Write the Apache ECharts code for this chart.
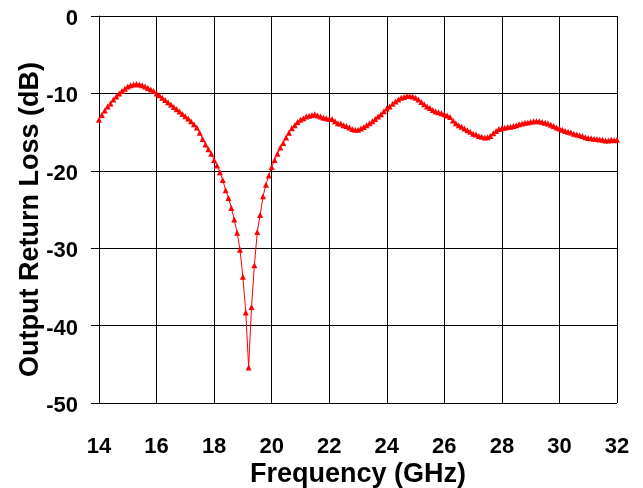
<!DOCTYPE html>
<html>
<head>
<meta charset="utf-8">
<script src="https://cdn.jsdelivr.net/npm/echarts@6/dist/echarts.min.js"></script>
<style>
html,body{margin:0;padding:0;background:#fff;}
#chart{width:643px;height:488px;}
</style>
</head>
<body>
<div id="chart"></div>
<script>
const xTicks = [14, 16, 18, 20, 22, 24, 26, 28, 30, 32];
const yTicks = [-50, -40, -30, -20, -10, 0];
const frequencyGHz = [
14.0,14.1,14.2,14.3,14.4,14.5,14.6,14.7,14.8,14.9,
15.0,15.1,15.2,15.3,15.4,15.5,15.6,15.7,15.8,15.9,
16.0,16.1,16.2,16.3,16.4,16.5,16.6,16.7,16.8,16.9,
17.0,17.1,17.2,17.3,17.4,17.5,17.6,17.7,17.8,17.9,
18.0,18.1,18.2,18.3,18.4,18.5,18.6,18.7,18.8,18.9,
19.0,19.1,19.2,19.3,19.4,19.5,19.6,19.7,19.8,19.9,
20.0,20.1,20.2,20.3,20.4,20.5,20.6,20.7,20.8,20.9,
21.0,21.1,21.2,21.3,21.4,21.5,21.6,21.7,21.8,21.9,
22.0,22.1,22.2,22.3,22.4,22.5,22.6,22.7,22.8,22.9,
23.0,23.1,23.2,23.3,23.4,23.5,23.6,23.7,23.8,23.9,
24.0,24.1,24.2,24.3,24.4,24.5,24.6,24.7,24.8,24.9,
25.0,25.1,25.2,25.3,25.4,25.5,25.6,25.7,25.8,25.9,
26.0,26.1,26.2,26.3,26.4,26.5,26.6,26.7,26.8,26.9,
27.0,27.1,27.2,27.3,27.4,27.5,27.6,27.7,27.8,27.9,
28.0,28.1,28.2,28.3,28.4,28.5,28.6,28.7,28.8,28.9,
29.0,29.1,29.2,29.3,29.4,29.5,29.6,29.7,29.8,29.9,
30.0,30.1,30.2,30.3,30.4,30.5,30.6,30.7,30.8,30.9,
31.0,31.1,31.2,31.3,31.4,31.5,31.6,31.7,31.8,31.9,
32.0
];
const returnLossDB = [
-13.4,-12.8,-12.2,-11.7,-11.3,-10.8,-10.4,-10.0,-9.7,-9.4,
-9.1,-8.95,-8.85,-8.8,-8.85,-8.95,-9.1,-9.3,-9.5,-9.7,
-10.0,-10.25,-10.55,-10.85,-11.15,-11.45,-11.75,-12.05,-12.35,-12.65,
-12.95,-13.25,-13.6,-14.0,-14.4,-15.1,-15.9,-16.6,-17.2,-17.8,
-18.6,-19.3,-20.2,-21.2,-22.5,-23.5,-24.8,-26.3,-28.0,-30.2,
-33.7,-38.3,-45.4,-37.6,-32.2,-27.9,-25.7,-23.3,-21.8,-20.6,
-19.5,-18.6,-17.8,-17.0,-16.4,-15.7,-15.1,-14.5,-14.1,-13.7,
-13.4,-13.2,-13.0,-12.9,-12.8,-12.7,-12.85,-13.0,-13.15,-13.2,
-13.3,-13.3,-13.6,-13.85,-13.9,-14.1,-14.2,-14.4,-14.6,-14.7,
-14.7,-14.55,-14.35,-14.1,-13.85,-13.6,-13.3,-13.0,-12.7,-12.3,
-11.95,-11.7,-11.35,-11.05,-10.8,-10.55,-10.45,-10.35,-10.35,-10.4,
-10.55,-10.8,-11.1,-11.4,-11.7,-11.9,-12.15,-12.35,-12.45,-12.55,
-12.7,-12.85,-13.05,-13.5,-13.85,-14.1,-14.3,-14.55,-14.75,-14.95,
-15.2,-15.3,-15.5,-15.6,-15.7,-15.65,-15.5,-15.15,-14.85,-14.6,
-14.5,-14.45,-14.35,-14.3,-14.2,-14.1,-14.0,-13.9,-13.8,-13.75,
-13.65,-13.6,-13.6,-13.6,-13.7,-13.8,-13.9,-14.05,-14.2,-14.4,
-14.55,-14.7,-14.85,-14.95,-15.05,-15.2,-15.3,-15.4,-15.5,-15.65,
-15.75,-15.8,-15.85,-15.9,-15.95,-16.0,-16.1,-16.1,-16.0,-16.05,
-16.0
];

const seriesData = frequencyGHz.map((f, i) => [f, returnLossDB[i]]);
const FONT = '"Liberation Sans", Arial, sans-serif';

const chart = echarts.init(document.getElementById('chart'), null, {renderer: 'canvas'});
chart.setOption({
  animation: false,
  backgroundColor: '#ffffff',
  grid: {left: 99, right: 26, top: 16, bottom: 85, containLabel: false, outerBoundsMode: 'none'},
  xAxis: {
    type: 'value',
    min: xTicks[0],
    max: xTicks[xTicks.length - 1],
    interval: 2,
    name: 'Frequency (GHz)',
    nameLocation: 'middle',
    nameGap: 58,
    nameMoveOverlap: false,
    nameTextStyle: {fontFamily: FONT, fontWeight: 'bold', fontSize: 27, color: '#000'},
    axisLine: {show: true, lineStyle: {color: '#000', width: 1}},
    axisTick: {show: true, inside: false, length: 8, lineStyle: {color: '#000', width: 1}},
    axisLabel: {fontFamily: FONT, fontWeight: 'bold', fontSize: 22, color: '#000', margin: 33},
    splitLine: {show: true, lineStyle: {color: '#000', width: 1}}
  },
  yAxis: {
    type: 'value',
    min: yTicks[0],
    max: yTicks[yTicks.length - 1],
    interval: 10,
    name: 'Output Return Loss (dB)',
    nameLocation: 'middle',
    nameGap: 55,
    nameMoveOverlap: false,
    nameTextStyle: {fontFamily: FONT, fontWeight: 'bold', fontSize: 27, color: '#000', padding: [0, 20, 0, 0]},
    axisLine: {show: true, onZero: false, lineStyle: {color: '#000', width: 1}},
    axisTick: {show: true, inside: false, length: 8, lineStyle: {color: '#000', width: 1}},
    axisLabel: {
      fontFamily: FONT, fontWeight: 'bold', fontSize: 22, color: '#000', margin: 21,
      formatter: '{v|{value}}',
      rich: {v: {fontFamily: FONT, fontWeight: 'bold', fontSize: 22, color: '#000', padding: [6, 0, 0, 0]}}
    },
    splitLine: {show: true, lineStyle: {color: '#000', width: 1}}
  },
  series: [{
    type: 'line',
    data: seriesData,
    symbol: 'triangle',
    symbolSize: 6,
    showAllSymbol: true,
    itemStyle: {color: '#ff0000'},
    lineStyle: {color: '#ff0000', width: 1},
    z: 3
  }]
});
</script>
</body>
</html>
